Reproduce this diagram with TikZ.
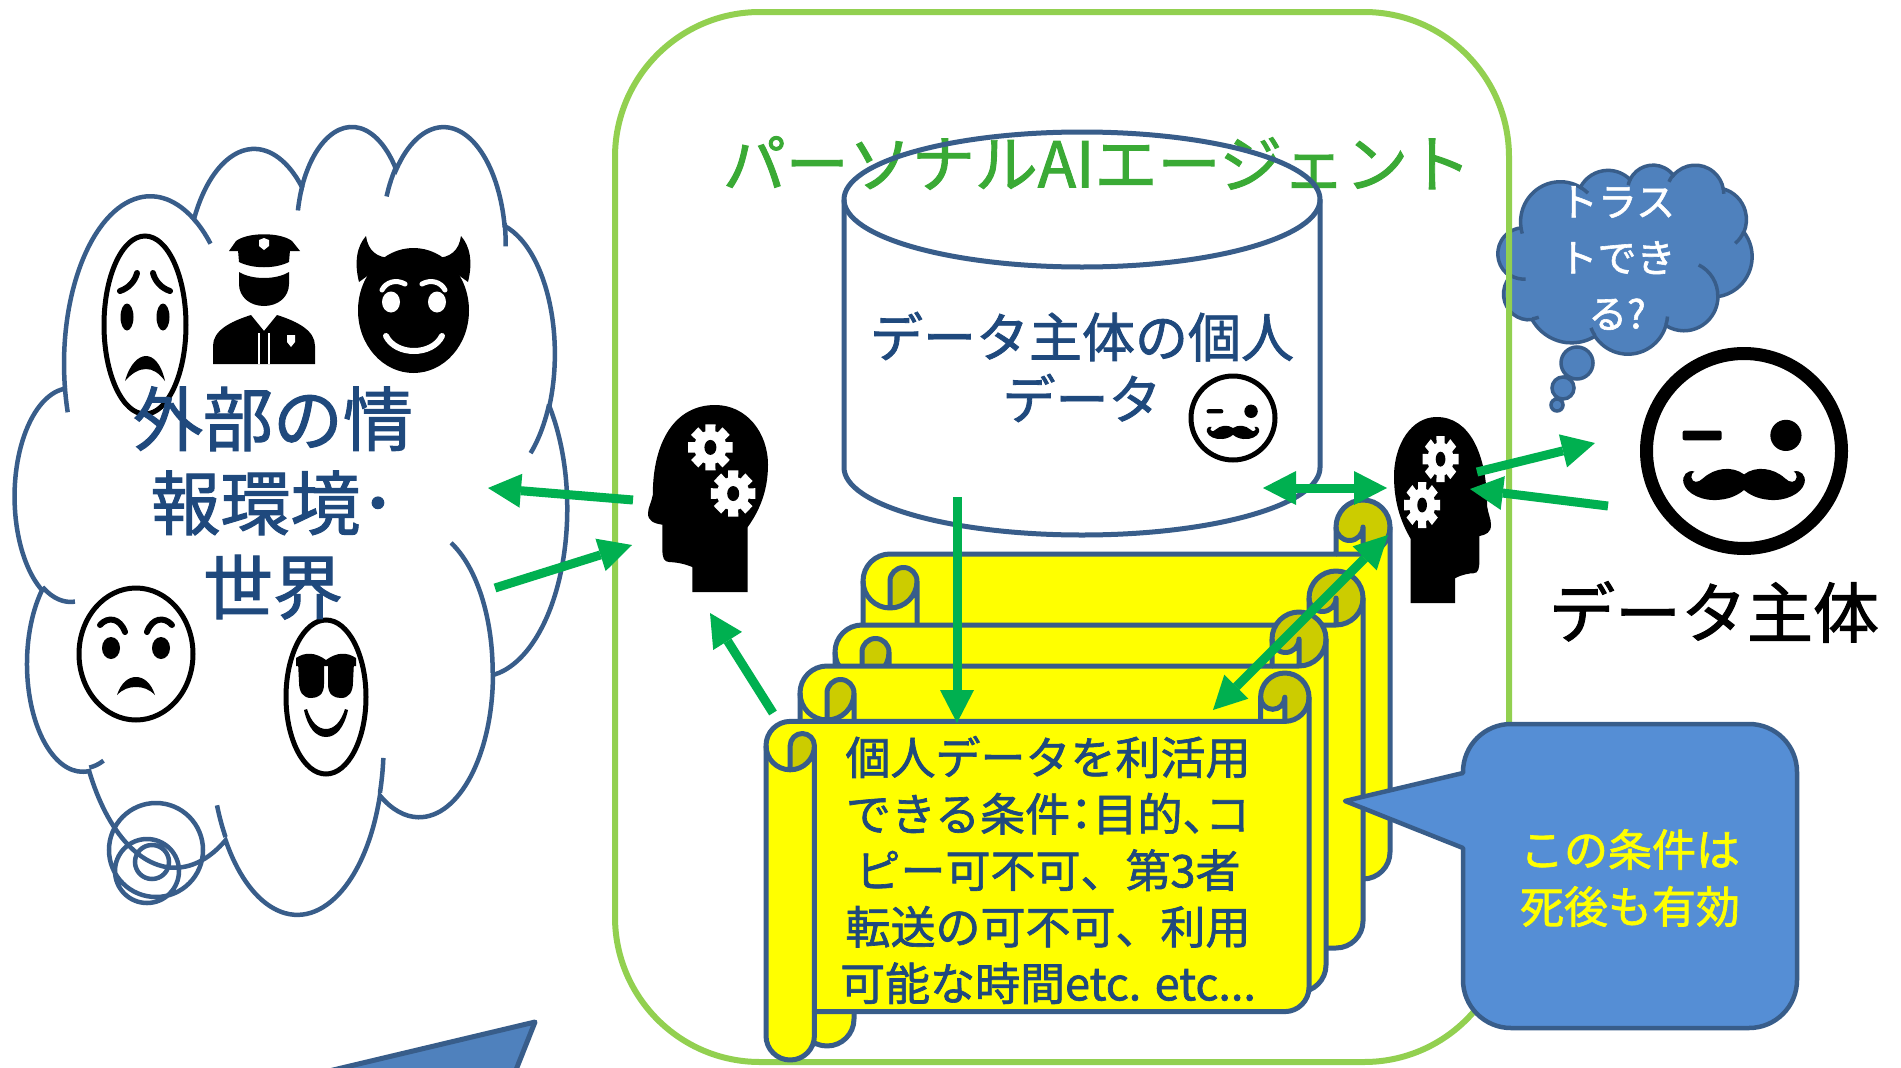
\documentclass[tikz,border=0pt]{standalone}
\usepackage{fontspec}
\setmainfont{Noto Sans CJK JP}[FakeBold=1.5]
\usetikzlibrary{arrows.meta}

\definecolor{edgeblue}{HTML}{385D8A}
\definecolor{textblue}{HTML}{1F497D}
\definecolor{framegreen}{HTML}{92D050}
\definecolor{titlegreen}{HTML}{3AAA35}
\definecolor{arrowgreen}{HTML}{00B050}
\definecolor{bubblefill}{HTML}{4F81BD}
\definecolor{notefill}{HTML}{558ED5}
\definecolor{scrollyellow}{HTML}{FFFF00}
\definecolor{scrolldark}{HTML}{CCCC00}

% cloud outline, 432 x 432 box, y pointing down
\newcommand{\cloudshape}[1]{%
  \path[#1] (39.00,143.70)
    arc[x radius=67.53, y radius=91.90, start angle=-187.75, end angle=-59.64]
    arc[x radius=53.33, y radius=72.67, start angle=-152.02, end angle=-45.45]
    arc[x radius=43.65, y radius=59.45, start angle=-153.50, end angle=-37.31]
    arc[x radius=48.57, y radius=65.95, start angle=-139.73, end angle=-10.21]
    arc[x radius=53.33, y radius=72.73, start angle=-74.77, end angle=23.21]
    arc[x radius=67.75, y radius=92.20, start angle=-37.52, end angle=81.86]
    arc[x radius=57.85, y radius=78.67, start angle=0.46, end angle=121.97]
    arc[x radius=67.52, y radius=92.15, start angle=16.84, end angle=146.23]
    arc[x radius=77.20, y radius=105.43, start angle=58.98, end angle=150.20]
    arc[x radius=43.60, y radius=59.18, start angle=-276.69, end angle=-136.89]
    arc[x radius=43.45, y radius=59.45, start angle=-239.64, end angle=-95.89]
    -- cycle;}
% the short inner arcs of the puffs
\newcommand{\cloudstubs}[1]{%
  \path[#1]
    (46.93,261.77) arc[x radius=43.45, y radius=59.45, start angle=85.55, end angle=120.36]
    (69.28,348.99) arc[x radius=43.60, y radius=59.18, start angle=68.23, end angle=83.31]
    (164.78,390.90) arc[x radius=67.52, y radius=92.15, start angle=146.23, end angle=158.47]
    (288.27,347.51) arc[x radius=67.52, y radius=92.15, start angle=4.74, end angle=16.84]
    (341.29,229.54) arc[x radius=57.85, y radius=78.67, start angle=-64.03, end angle=0.46]
    (417.98,153.54) arc[x radius=53.33, y radius=72.73, start angle=23.21, end angle=49.65]
    (383.24,54.26) arc[x radius=48.57, y radius=65.95, start angle=-10.21, end angle=0.82]
    (290.78,39.52) arc[x radius=48.57, y radius=65.95, start angle=-156.29, end angle=-139.73]
    (221.41,47.20) arc[x radius=43.65, y radius=59.45, start angle=-167.73, end angle=-153.50]
    (140.00,51.92) arc[x radius=67.53, y radius=91.90, start angle=-59.64, end angle=-45.73]
    (41.27,157.89) arc[x radius=67.53, y radius=91.90, start angle=163.20, end angle=172.25];}

% white gear with eight teeth
\newcommand{\gearwheel}[2]{%
  \fill[white] (#1,#2) circle[radius=13.5];
  \foreach \a in {0,45,...,315}
    \fill[white] (#1,#2) +(\a-13:19) -- +(\a+13:19) -- +(\a+20:12) -- +(\a-20:12) -- cycle;
  \fill[black] (#1,#2) ellipse[x radius=5, y radius=6];}

% head silhouette facing left, 100 x 150 box
\newcommand{\thinkinghead}{%
  \fill (0,87) .. controls (0,82) and (3,78) .. (4,72)
    .. controls (4,30) and (22,0) .. (56,0)
    .. controls (82,0) and (100,22) .. (100,48)
    .. controls (100,70) and (92,86) .. (83,98)
    -- (83,150) -- (37,150) -- (37,130)
    .. controls (30,127) and (22,126) .. (18,126)
    .. controls (13,126) and (12,122) .. (12,116)
    -- (12,96) .. controls (5,95) and (0,93) .. (0,87) -- cycle;
  \gearwheel{52}{34}
  \gearwheel{71}{71}}

% winking face with moustache, radius 100 before scaling
\newcommand{\mustacheface}[4]{%
  \begin{scope}[shift={(#1,#2)}, scale=#3]
    \draw[line width=#4, fill=white] (0,0) circle[radius=100];
    \fill[rounded corners=2pt] (-63,-21) rectangle (-23,-11);
    \fill (43,-16) circle[radius=16];
    \fill (0,24) .. controls (12,15) and (30,17) .. (42,28)
      .. controls (47,33) and (53,33) .. (54,27)
      .. controls (54,24) and (53,22) .. (51,21)
      .. controls (58,19) and (64,25) .. (62,33)
      .. controls (59,44) and (42,52) .. (25,50)
      .. controls (14,49) and (6,45) .. (0,40)
      .. controls (-6,45) and (-14,49) .. (-25,50)
      .. controls (-42,52) and (-59,44) .. (-62,33)
      .. controls (-64,25) and (-58,19) .. (-51,21)
      .. controls (-53,22) and (-54,24) .. (-54,27)
      .. controls (-53,33) and (-47,33) .. (-42,28)
      .. controls (-30,17) and (-12,15) .. (0,24) -- cycle;
  \end{scope}}

% scroll sheet: left, top, right, bottom, roll size
\newcommand{\scrollsheet}[5]{%
  \pgfmathsetmacro\srh{#5/2}\pgfmathsetmacro\srq{#5/4}%
  \pgfmathsetmacro\sxa{#3-#5}\pgfmathsetmacro\sxb{#3-#5/2}%
  \pgfmathsetmacro\slc{#1+#5}\pgfmathsetmacro\slh{#1+#5/2}%
  \pgfmathsetmacro\sth{#2+#5/2}\pgfmathsetmacro\stc{#2+#5}%
  \pgfmathsetmacro\sya{#2+1.5*#5}\pgfmathsetmacro\syb{#2+2*#5}%
  \pgfmathsetmacro\syc{#4-#5}\pgfmathsetmacro\syd{#4-#5/2}%
  \pgfmathsetmacro\sye{#4-1.5*#5}%
  \path[fill=scrollyellow] (#1,\sya) arc[start angle=180, end angle=270, radius=\srh]
    -- (\sxa,\stc) -- (\sxa,\sth) arc[start angle=180, end angle=360, radius=\srh]
    -- (#3,\sye) arc[start angle=0, end angle=90, radius=\srh]
    -- (\slc,\syc) -- (\slc,\syd) arc[start angle=0, end angle=180, radius=\srh] -- cycle;
  \fill[scrolldark] (\sxb,\stc) arc[start angle=90, end angle=-180, radius=\srh]
    arc[start angle=180, end angle=0, radius=\srq] -- cycle;
  \fill[scrolldark] (\slh,\syb) arc[start angle=90, end angle=0, radius=\srh]
    arc[start angle=0, end angle=-180, radius=\srq] -- cycle;
  \draw[outline] (#1,\sya) arc[start angle=180, end angle=270, radius=\srh]
    -- (\sxa,\stc) -- (\sxa,\sth) arc[start angle=180, end angle=360, radius=\srh]
    -- (#3,\sye) arc[start angle=0, end angle=90, radius=\srh]
    -- (\slc,\syc) -- (\slc,\syd) arc[start angle=0, end angle=180, radius=\srh] -- cycle;
  \draw[outline] (\sxa,\stc) -- (\sxb,\stc) arc[start angle=90, end angle=0, radius=\srh]
    (\sxb,\stc) -- (\sxb,\sth) arc[start angle=0, end angle=180, radius=\srq]
    (\slh,\syb) -- (\slh,\sya) arc[start angle=180, end angle=360, radius=\srq]
    arc[start angle=0, end angle=180, radius=\srh]
    (\slc,\sya) -- (\slc,\syc);}

% narrow punctuation
\newcommand{\halfpunct}[1]{{\addfontfeature{RawFeature=+halt}#1}}

\begin{document}
\begin{tikzpicture}[x=1pt, y=-1pt,
    outline/.style={draw=edgeblue, line width=5pt, line join=round},
    faceline/.style={draw=black, line width=5pt, fill=white},
    browline/.style={line width=6pt, line cap=round},
    flow/.style={arrowgreen, line width=9pt, -{Triangle[length=33pt, width=34pt, line width=0pt]}},
    flowboth/.style={arrowgreen, line width=9pt, {Triangle[length=33pt, width=34pt, line width=0pt]}-{Triangle[length=33pt, width=34pt, line width=0pt]}},
    worldtext/.style={inner sep=0pt, align=center, text=textblue, font=\fontsize{70}{84}\selectfont},
    titletext/.style={inner sep=0pt, text=titlegreen, font=\fontsize{63}{75}\selectfont},
    storetext/.style={inner sep=0pt, align=center, text=textblue, font=\fontsize{53}{62}\selectfont},
    scrolltext/.style={inner sep=0pt, align=center, text=textblue, font=\fontsize{45}{56.5}\selectfont},
    notetext/.style={inner sep=0pt, align=center, text=scrollyellow, font=\fontsize{44}{57}\selectfont},
    trusttext/.style={inner sep=0pt, align=center, text=white, font=\fontsize{39}{56}\selectfont},
    subjecttext/.style={inner sep=0pt, font=\fontsize{66}{80}\selectfont}
]
\useasboundingbox (0,0) rectangle (1901,1068);
\fill[white] (0,0) rectangle (1901,1068);
\clip (0,0) rectangle (1901,1068);

% outside world
\begin{scope}[shift={(15,124.4)}, xscale=1.2778, yscale=1.8231]
  \cloudshape{fill=white, draw=edgeblue, line width=4.5pt}
  \cloudstubs{draw=edgeblue, line width=4.5pt}
\end{scope}
\draw[edgeblue, line width=4.5pt] (156,850) circle[radius=47] (147,871) circle[radius=32] (152,862) circle[radius=17];

\draw[faceline] (145,325) ellipse[x radius=41, y radius=89];
\draw[browline] (120,291) .. controls (129,288) and (135,281) .. (137,273);
\draw[browline] (170,291) .. controls (161,288) and (155,281) .. (153,273);
\fill (127,317) ellipse[x radius=6.5, y radius=13.5];
\fill (163,317) ellipse[x radius=6.5, y radius=13.5];
\fill (125,381) .. controls (130,363) and (139,356) .. (146,356) .. controls (153,356) and (161,363) .. (165,381)
  .. controls (159,373) and (153,369) .. (146,369) .. controls (139,369) and (132,373) .. (125,381) -- cycle;

\fill (229,251) -- (236,241) .. controls (248,232) and (280,232) .. (292,241) -- (300,251) -- cycle;
\fill (238,250) -- (290,250) -- (289,262) .. controls (275,269) and (253,269) .. (239,262) -- cycle;
\fill[white] (264,238) -- (269,240) -- (269,246) -- (264,250) -- (259,246) -- (259,240) -- cycle;
\fill (239,272) .. controls (252,280) and (276,280) .. (289,272) -- (289,284)
  .. controls (289,297) and (278,306) .. (264,306) .. controls (250,306) and (239,297) .. (239,284) -- cycle;
\fill (213,364) -- (213,346) .. controls (213,331) and (229,322) .. (251,315) -- (264,331) -- (277,315)
  .. controls (299,322) and (315,331) .. (315,346) -- (315,364) -- cycle;
\draw[white, line width=2pt] (259,333) -- (259,364) (269,333) -- (269,364);
\fill[white] (287,335) -- (295,335) -- (295,342) -- (291,347) -- (287,342) -- cycle;

\fill (413.5,310.5) ellipse[x radius=55.5, y radius=62.5];
\fill (359,282) .. controls (354,262) and (357,246) .. (366,236) .. controls (368,250) and (376,258) .. (392,258) -- cycle;
\fill (468,282) .. controls (473,262) and (470,246) .. (461,236) .. controls (459,250) and (451,258) .. (435,258) -- cycle;
\draw[white, line width=5pt, line cap=round] (382,290) .. controls (386,282) and (396,279) .. (405,284);
\draw[white, line width=5pt, line cap=round] (445,290) .. controls (441,282) and (431,279) .. (422,284);
\fill[white] (391,302) ellipse[x radius=9, y radius=10.5];
\fill[white] (437,302) ellipse[x radius=9, y radius=10.5];
\draw[white, line width=6pt, line cap=round] (386,336) .. controls (396,356) and (432,356) .. (442,336);

\draw[faceline] (136,654) ellipse[x radius=57, y radius=66];
\draw[browline] (100,625) .. controls (108,616) and (120,618) .. (125,632);
\draw[browline] (147,632) .. controls (152,618) and (164,616) .. (172,625);
\fill (111,648) ellipse[x radius=9, y radius=11];
\fill (161,648) ellipse[x radius=9, y radius=11];
\fill (117,695) .. controls (121,683) and (128,677) .. (136,677) .. controls (144,677) and (151,683) .. (155,695)
  .. controls (149,689) and (143,687) .. (136,687) .. controls (129,687) and (123,689) .. (117,695) -- cycle;

\draw[faceline] (326,697) ellipse[x radius=40, y radius=77];
\fill (296,658) .. controls (305,652) and (315,652) .. (326,660) .. controls (337,652) and (347,652) .. (356,658) -- (356,666) -- (296,666) -- cycle;
\fill (298,662) -- (324,662) -- (324,684) .. controls (324,695) and (318,698) .. (311,698) .. controls (303,698) and (299,692) .. (299,682) -- cycle;
\fill (354,662) -- (328,662) -- (328,684) .. controls (328,695) and (334,698) .. (341,698) .. controls (349,698) and (353,692) .. (353,682) -- cycle;
\fill (304,710) .. controls (308,728) and (316,737) .. (326,737) .. controls (336,737) and (344,728) .. (348,710)
  -- (345,709) .. controls (341,722) and (334,729) .. (326,729) .. controls (318,729) and (311,722) .. (307,709) -- cycle;

\node[worldtext] (world) at (273,503) {外部の情\\報環境･\\世界};

% the doubt of the data subject
\begin{scope}[shift={(1498,164.5)}, xscale=0.588, yscale=0.4375]
  \cloudshape{fill=bubblefill, draw=edgeblue, line width=3.5pt}
  \cloudstubs{draw=edgeblue, line width=3.5pt}
\end{scope}
\filldraw[fill=bubblefill, draw=edgeblue, line width=3.5pt] (1577,363) circle[radius=16] (1563,388) circle[radius=11] (1557,405) circle[radius=6];
\node[trusttext] (trust) at (1617,258) {トラス\\トでき\\る?};

% the agent
\draw[framegreen, line width=6pt, rounded corners=145pt] (615,12) rectangle (1509,1062);
\node[titletext] (agent) at (1097,163) {パーソナルAIエージェント};

\draw[outline] (1082,199.5) ellipse[x radius=238, y radius=67.5];
\draw[outline] (844,199.5) -- (844,467.5) arc[start angle=180, end angle=0, x radius=238, y radius=67.5] -- (1320,199.5);
\node[storetext] (store) at (1082,367) {データ主体の個人\\データ};
\mustacheface{1233}{418}{0.42}{5pt}

\begin{scope}[shift={(648,405)}, xscale=1.2, yscale=1.247]
  \thinkinghead
\end{scope}
\begin{scope}[shift={(1491,417)}, xscale=-0.97, yscale=1.24]
  \thinkinghead
\end{scope}

\scrollsheet{863}{500}{1390}{933}{54}
\scrollsheet{835}{571}{1363}{1002}{54}
\scrollsheet{800}{612}{1326}{1046}{54}
\scrollsheet{766}{673}{1309}{1060}{48.4}
\node[scrolltext] (terms) at (1048,870) {個人データを利活用\\できる条件\halfpunct{：}目的\halfpunct{、}コ\\ピー可不可、第3者\\転送の可不可、利用\\可能な時間etc. etc...};

\coordinate (agent-out) at (633,500);
\coordinate (world-in) at (488,488);
\coordinate (world-out) at (495,588);
\coordinate (agent-in) at (632,545);
\coordinate (terms-up) at (773,713);
\coordinate (agent-low) at (710,613);
\coordinate (store-out) at (957,497);
\coordinate (terms-top) at (957,723);
\coordinate (store-side) at (1263,488);
\coordinate (proxy-side) at (1387,488);
\coordinate (terms-corner) at (1213,710);
\coordinate (proxy-low) at (1388,535);
\coordinate (proxy-out) at (1477,472);
\coordinate (subject-in) at (1595,443);
\coordinate (subject-out) at (1608,506);
\coordinate (proxy-in) at (1470,489);

\draw[flow] (agent-out) -- (world-in);
\draw[flow] (world-out) -- (agent-in);
\draw[flow] (terms-up) -- (agent-low);
\draw[flow] (store-out) -- (terms-top);
\draw[flowboth] (store-side) -- (proxy-side);
\draw[flowboth] (terms-corner) -- (proxy-low);
\draw[flow] (proxy-out) -- (subject-in);
\draw[flow] (subject-out) -- (proxy-in);

% note on the terms
\draw[fill=notefill, draw=edgeblue, line width=4.5pt, line join=round]
  (1511,724) -- (1749,724) arc[start angle=-90, end angle=0, radius=48]
  -- (1797,980) arc[start angle=0, end angle=90, radius=48]
  -- (1511,1028) arc[start angle=90, end angle=180, radius=48]
  -- (1463,848) -- (1345,801) -- (1463,773) -- (1463,772) arc[start angle=180, end angle=270, radius=48] -- cycle;
\node[notetext] (note) at (1630,878) {この条件は\\死後も有効};

% data subject
\mustacheface{1744}{451}{0.975}{13pt}
\node[subjecttext] (subject) at (1714,612) {データ主体};

\filldraw[fill=bubblefill, draw=edgeblue, line width=5pt, line join=round] (535,1022) -- (270,1085) -- (510,1085) -- cycle;
\end{tikzpicture}
\end{document}
